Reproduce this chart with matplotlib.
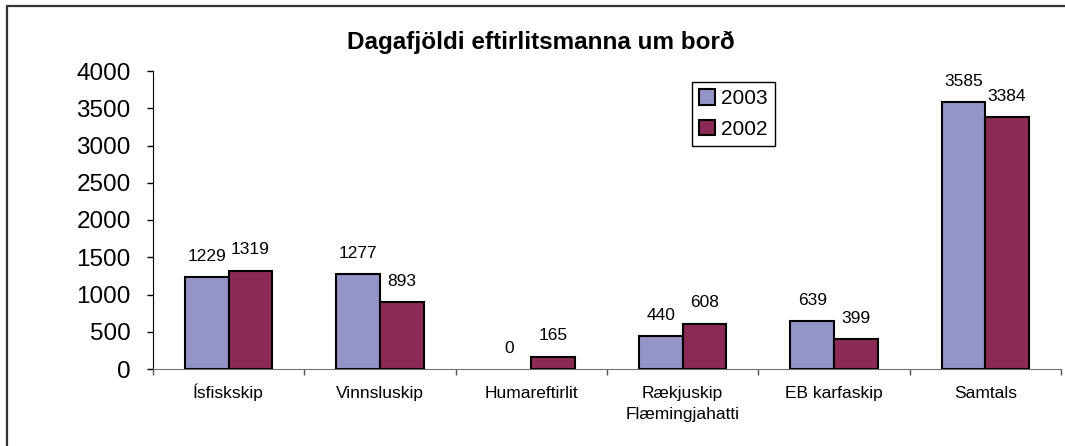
import numpy as np
import matplotlib.pyplot as plt
from matplotlib.patches import Rectangle

plt.rcParams['font.family'] = ['Liberation Sans', 'DejaVu Sans']

# data
categories = ['Ísfiskskip', 'Vinnsluskip', 'Humareftirlit',
              'Rækjuskip\nFlæmingjahatti', 'EB karfaskip', 'Samtals']
y2003 = [1229, 1277, 0, 440, 639, 3585]
y2002 = [1319, 893, 165, 608, 399, 3384]
yticks = [0, 500, 1000, 1500, 2000, 2500, 3000, 3500, 4000]

c2003 = '#9494c8'
c2002 = '#8c2a55'

fig = plt.figure(figsize=(10.65, 4.46), dpi=100)
ax = fig.add_axes([153/1065, 1 - 369/446, 908/1065, 298/446])

x = np.arange(len(categories))
w = 0.2875
b1 = ax.bar(x - w/2, y2003, w, color=c2003, edgecolor='black', linewidth=1.5, label='2003')
b2 = ax.bar(x + w/2, y2002, w, color=c2002, edgecolor='black', linewidth=1.5, label='2002')

# value labels above bars, empty bars are not drawn
for bars, vals in [(b1, y2003), (b2, y2002)]:
    for r, v in zip(bars, vals):
        if v == 0:
            r.set_visible(False)
        ax.annotate(str(v), (r.get_x() + r.get_width()/2, v),
                    xytext=(0, 15), textcoords='offset points',
                    ha='center', va='center', fontsize=12.5)

ax.set_xlim(-0.5, len(categories) - 0.5)
ax.set_ylim(0, 4000)
ax.set_yticks(yticks)
ax.tick_params(axis='y', labelsize=17.5, length=4, width=1, pad=12, color='black')

# ticks at category borders, labels drawn line by line at the centers
ax.set_xticks(np.arange(-0.5, len(categories), 1.0))
ax.set_xticklabels([])
ax.tick_params(axis='x', which='major', length=4, width=1, color='#555555')
for i, cat in enumerate(categories):
    for j, line in enumerate(cat.split('\n')):
        ax.annotate(line, (i, 0), xycoords=('data', 'axes fraction'),
                    xytext=(0, -(29 + 21*j) * 0.72), textcoords='offset points',
                    ha='center', va='baseline', fontsize=12.5)

ax.spines['top'].set_visible(False)
ax.spines['right'].set_visible(False)
ax.spines['left'].set_color('black')
ax.spines['bottom'].set_color('#707070')

fig.text(541/1065, 1 - 42/446, 'Dagafjöldi eftirlitsmanna um borð',
         ha='center', va='center', fontsize=17.5, fontweight='bold')

leg = ax.legend(loc='upper left', bbox_to_anchor=(692/1065, 1 - 82/446),
                bbox_transform=fig.transFigure, fontsize=15, frameon=True,
                fancybox=False, edgecolor='black', framealpha=1,
                handlelength=0.75, handleheight=0.75, handletextpad=0.3,
                borderpad=0.35, labelspacing=0.55, borderaxespad=0)
leg.get_frame().set_linewidth(1)

# outer chart border (clipped at the right and bottom in the reference)
fig.patches.append(Rectangle((7/1065, -0.2), 1.2, 1.2 - 5.5/446,
                             transform=fig.transFigure, fill=False,
                             edgecolor='#333333', linewidth=1.6))

fig.savefig('out.png', dpi=100)
